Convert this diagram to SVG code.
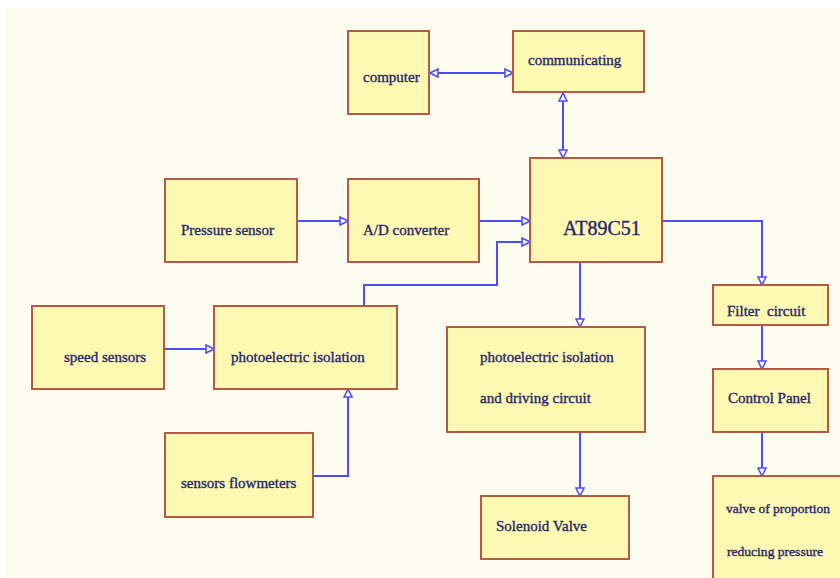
<svg xmlns="http://www.w3.org/2000/svg" width="840" height="578" viewBox="0 0 840 578">
<style>
.box{fill:#fdf8b2;stroke:#b65a46;stroke-width:2}
.t{font-family:"Liberation Serif","Times New Roman",serif;font-size:15px;fill:#26266e;stroke:#26266e;stroke-width:0.35}
.c{fill:none;stroke:#4d4dff;stroke-width:2}
</style>
<defs>
<marker id="ah" viewBox="0 0 10 10" refX="9" refY="5" markerWidth="10" markerHeight="10" markerUnits="userSpaceOnUse" orient="auto-start-reverse">
<path d="M1,1 L9,5 L1,9 Z" fill="#fdfdef" stroke="#4d4dff" stroke-width="1.6"/>
</marker>
</defs>
<rect x="0" y="0" width="840" height="578" fill="#ffffff"/>
<rect x="6" y="8" width="834" height="570" fill="#fdfdef"/>
<g id="connectors">
<path class="c" d="M430,73 H513" marker-start="url(#ah)" marker-end="url(#ah)"/>
<path class="c" d="M563,93 V158" marker-start="url(#ah)" marker-end="url(#ah)"/>
<path class="c" d="M297,221 H348" marker-end="url(#ah)"/>
<path class="c" d="M479,221 H530" marker-end="url(#ah)"/>
<path class="c" d="M364,306 V285 H497 V242 H530" marker-end="url(#ah)"/>
<path class="c" d="M164,349 H214" marker-end="url(#ah)"/>
<path class="c" d="M313,476 H348 V389" marker-end="url(#ah)"/>
<path class="c" d="M662,221 H762 V285" marker-end="url(#ah)"/>
<path class="c" d="M580,262 V327" marker-end="url(#ah)"/>
<path class="c" d="M580,432 V496" marker-end="url(#ah)"/>
<path class="c" d="M762,325 V369" marker-end="url(#ah)"/>
<path class="c" d="M762,432 V476" marker-end="url(#ah)"/>
</g>
<g id="computer"><rect class="box" x="348" y="31" width="81" height="83"/><text class="t" x="363" y="82">computer</text></g>
<g id="communicating"><rect class="box" x="513" y="31" width="131" height="61"/><text class="t" x="528" y="65">communicating</text></g>
<g id="pressure-sensor"><rect class="box" x="165" y="179" width="132" height="83"/><text class="t" x="181" y="235">Pressure sensor</text></g>
<g id="ad-converter"><rect class="box" x="348" y="179" width="131" height="83"/><text class="t" x="363" y="235">A/D converter</text></g>
<g id="at89c51"><rect class="box" x="530" y="158" width="132" height="104"/><text class="t" x="563" y="235" style="font-size:20px">AT89C51</text></g>
<g id="speed-sensors"><rect class="box" x="32" y="306" width="132" height="83"/><text class="t" x="64" y="362">speed sensors</text></g>
<g id="photo-isolation"><rect class="box" x="214" y="306" width="183" height="83"/><text class="t" x="231" y="362">photoelectric isolation</text></g>
<g id="flowmeters"><rect class="box" x="165" y="433" width="148" height="84"/><text class="t" x="181" y="488">sensors flowmeters</text></g>
<g id="photo-driving"><rect class="box" x="447" y="327" width="198" height="105"/><text class="t" x="480" y="362">photoelectric isolation</text><text class="t" x="480" y="403">and driving circuit</text></g>
<g id="solenoid-valve"><rect class="box" x="481" y="496" width="148" height="63"/><text class="t" x="496" y="531">Solenoid Valve</text></g>
<g id="filter-circuit"><rect class="box" x="713" y="285" width="115" height="40"/><text class="t" x="727" y="316" xml:space="preserve">Filter  circuit</text></g>
<g id="control-panel"><rect class="box" x="713" y="369" width="115" height="63"/><text class="t" x="728" y="403">Control Panel</text></g>
<g id="proportion-valve"><rect class="box" x="713" y="476" width="132" height="110"/><text class="t" x="726" y="513" style="font-size:13px" textLength="104" lengthAdjust="spacingAndGlyphs">valve of proportion</text><text class="t" x="727" y="556" style="font-size:13px" textLength="96" lengthAdjust="spacingAndGlyphs">reducing pressure</text></g>
</svg>
